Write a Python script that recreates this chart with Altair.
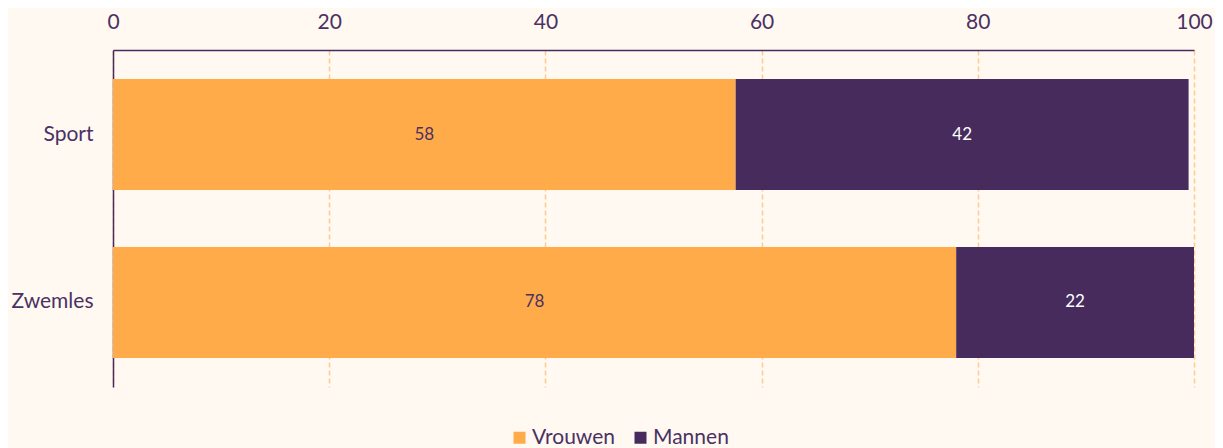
import altair as alt
import pandas as pd

categories = ["Sport", "Zwemles"]
groups = ["Vrouwen", "Mannen"]
vrouwen = [57.6, 78.0]
mannen = [41.9, 22.0]
x_ticks = [0, 20, 40, 60, 80, 100]

ORANGE = "#FFAB4A"
PURPLE = "#472B5D"
TEXT = "#4B3162"
BG = "#FFF9F2"
GRID = "#FFCB8C"

rows = []
for i, c in enumerate(categories):
    rows.append({"category": c, "group": "Vrouwen", "value": vrouwen[i], "order": 0})
    rows.append({"category": c, "group": "Mannen", "value": mannen[i], "order": 1})
df = pd.DataFrame(rows)

base = alt.Chart(df).transform_stack(
    stack="value",
    groupby=["category"],
    as_=["x0", "x1"],
    sort=[alt.SortField("order", order="ascending")],
).transform_calculate(mid="(datum.x0 + datum.x1) / 2")

y_enc = alt.Y(
    "category:N",
    sort=categories,
    title=None,
    scale=alt.Scale(paddingInner=0.339, paddingOuter=0.1726),
    axis=alt.Axis(
        labelFont="Lato", labelFontSize=21, labelColor=TEXT, labelPadding=20,
        ticks=False, tickSize=0, domainColor=PURPLE, domainWidth=1.5, grid=False,
    ),
)

bars = base.mark_bar().encode(
    y=y_enc,
    x=alt.X(
        "x0:Q",
        title=None,
        scale=alt.Scale(domain=[0, 100], nice=False),
        axis=alt.Axis(
            orient="top", values=x_ticks, labelFont="Lato", labelFontSize=21,
            labelColor=TEXT, labelPadding=18, labelFlush=False, ticks=False, tickSize=0,
            domainColor=PURPLE, domainWidth=1.5, grid=True, gridColor=GRID,
            gridDash=[5, 3], gridWidth=1.5,
        ),
    ),
    x2="x1:Q",
    color=alt.Color(
        "group:N",
        scale=alt.Scale(domain=groups, range=[ORANGE, PURPLE]),
        legend=alt.Legend(
            title=None, orient="none", legendX=396, legendY=377, padding=0,
            direction="horizontal", symbolType="square", symbolSize=144,
            symbolStrokeWidth=0, labelFont="Lato", labelFontSize=21,
            labelColor=TEXT, columnPadding=14, labelOffset=2,
        ),
    ),
)

labels = base.mark_text(font="Lato", fontSize=17).encode(
    y=alt.Y("category:N", sort=categories),
    x=alt.X("mid:Q"),
    text=alt.Text("value:Q", format=".0f"),
    color=alt.condition(alt.datum.group == "Mannen", alt.value("#FFFFFF"), alt.value(TEXT)),
)

chart = (bars + labels).properties(
    width=1081,
    height=337,
    background=BG,
    autosize=alt.AutoSizeParams(type="none"),
    padding={"left": 105, "top": 42, "right": 21, "bottom": 70},
).configure_view(stroke=None)

chart.save("out.html", embed_options={"renderer": "svg", "actions": False})
